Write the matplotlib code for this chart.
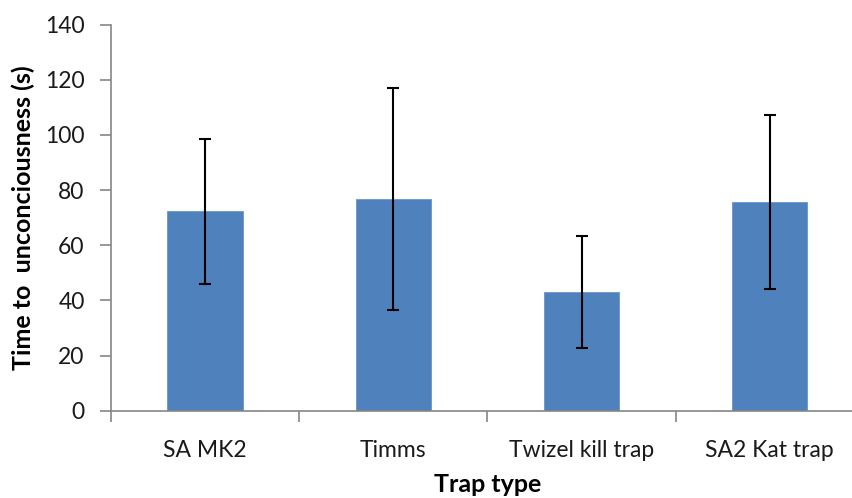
import matplotlib
matplotlib.use("Agg")
import matplotlib.pyplot as plt
import numpy as np

categories = ["SA MK2", "Timms", "Twizel kill trap", "SA2 Kat trap"]
means = [72.4, 76.9, 43.1, 75.7]
errors = [26.3, 40.3, 20.4, 31.6]
yticks = [0, 20, 40, 60, 80, 100, 120, 140]

plt.rcParams['font.family'] = ['Lato', 'DejaVu Sans']

W, H = 853, 498
fig = plt.figure(figsize=(W / 100, H / 100), dpi=100)
left, right = 111 / W, 863.8 / W
bottom, top = 1 - 410.7 / H, 1 - 24.7 / H
ax = fig.add_axes([left, bottom, right - left, top - bottom])

x = np.arange(len(categories))
ax.bar(x, means, width=0.4, color="#4F81BD", edgecolor="#6A96CC", linewidth=0.6, zorder=2)
ax.errorbar(x, means, yerr=errors, fmt="none", ecolor="black", elinewidth=1.5,
            capsize=4.5, capthick=1.5, zorder=3)

ax.set_xlim(-0.5, len(categories) - 0.5)
ax.set_ylim(0, 140)
ax.set_yticks(yticks)
ax.set_yticklabels([str(v) for v in yticks], fontsize=16.5, color="#1a1a1a")

ax.set_xticks(x)
ax.set_xticklabels(categories, fontsize=16.5, color="#1a1a1a")
ax.set_xticks(np.arange(len(categories) + 1) - 0.5, minor=True)
ax.tick_params(axis="x", which="major", length=0, pad=21)
ax.tick_params(axis="x", which="minor", length=8, width=1.2, color="#868686", direction="out")
ax.tick_params(axis="y", which="major", length=8, width=1.2, color="#868686", direction="out", pad=11)

for s in ["top", "right"]:
    ax.spines[s].set_visible(False)
for s in ["left", "bottom"]:
    ax.spines[s].set_color("#868686")
    ax.spines[s].set_linewidth(1.2)

ax.set_xlabel("Trap type", fontsize=18, fontweight="bold", labelpad=9)
ax.set_ylabel("Time to  unconciousness (s)", fontsize=18, fontweight="bold", labelpad=7)

fig.savefig("out.png", dpi=100)
